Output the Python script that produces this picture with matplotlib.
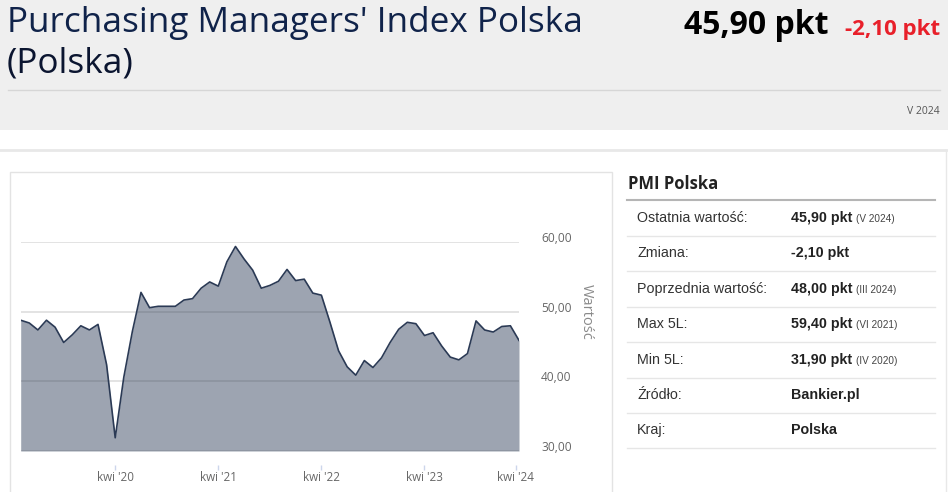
import matplotlib
matplotlib.use("Agg")
import matplotlib.pyplot as plt
import matplotlib.transforms as mtransforms
from matplotlib.lines import Line2D
from matplotlib.patches import Rectangle
import numpy as np

# ---------------- data ----------------
pmi_values = [48.8, 48.4, 47.4, 48.8, 47.8, 45.6, 46.7, 48.0, 47.4, 48.2,
              42.4, 31.9, 40.6, 47.2, 52.8, 50.6, 50.8, 50.8, 50.8, 51.7,
              51.9, 53.4, 54.3, 53.7, 57.2, 59.4, 57.6, 56.0, 53.4, 53.8,
              54.4, 56.1, 54.5, 54.7, 52.7, 52.4, 48.5, 44.4, 42.1, 40.9,
              43.0, 42.0, 43.4, 45.6, 47.5, 48.5, 48.3, 46.6, 47.0, 45.1,
              43.5, 43.1, 44.0, 48.7, 47.4, 47.1, 47.9, 48.0, 45.9]
x_tick_pos = [11, 23, 35, 47, 57.6]
x_tick_labels = ["kwi '20", "kwi '21", "kwi '22", "kwi '23", "kwi '24"]
y_ticks = [30, 40, 50, 60]
y_tick_labels = ["30,00", "40,00", "50,00", "60,00"]

title_lines = ["Purchasing Managers' Index Polska", "(Polska)"]
last_value = "45,90 pkt"
change_value = "-2,10 pkt"
period = "V 2024"

panel_title = "PMI Polska"
row_labels = ["Ostatnia wartość:", "Zmiana:", "Poprzednia wartość:", "Max 5L:",
              "Min 5L:", "Źródło:", "Kraj:"]
row_values = ["45,90 pkt", "-2,10 pkt", "48,00 pkt", "59,40 pkt",
              "31,90 pkt", "Bankier.pl", "Polska"]
row_dates = ["(V 2024)", "", "(III 2024)", "(VI 2021)", "(IV 2020)", "", ""]

# ---------------- figure ----------------
W, H = 948, 492
fig = plt.figure(figsize=(W / 100, H / 100), dpi=100)
fig.patch.set_facecolor("white")


def fx(px):
    return px / W


def fy(py):
    return 1 - py / H


# header background
fig.patches.append(Rectangle((0, fy(130)), 1, 130 / H, transform=fig.transFigure,
                             facecolor="#efefef", edgecolor="none", zorder=0))
fig.lines.append(Line2D([fx(8), fx(940)], [fy(90), fy(90)], transform=fig.transFigure,
                        color="#d6d6d6", lw=1))
# container border
fig.lines.append(Line2D([0, fx(946)], [fy(150), fy(150)], transform=fig.transFigure,
                        color="#e8e8e8", lw=2))
fig.lines.append(Line2D([fx(946), fx(946)], [fy(150), 0], transform=fig.transFigure,
                        color="#e8e8e8", lw=1))
# chart box
fig.patches.append(Rectangle((fx(10), fy(495)), fx(602), (495 - 172) / H,
                             transform=fig.transFigure, facecolor="none",
                             edgecolor="#e3e3e3", lw=1))

title_color = "#10234a"
fig.text(fx(7), fy(23), title_lines[0], fontsize=25.3, family="Open Sans",
         color=title_color, va="center", ha="left")
fig.text(fx(7), fy(64), title_lines[1], fontsize=25.3, family="Open Sans",
         color="#0b1530", va="center", ha="left")
fig.text(fx(828), fy(25), last_value, fontsize=23, family="Open Sans",
         fontweight="bold", color="black", va="center", ha="right")
fig.text(fx(940), fy(29), change_value, fontsize=16, family="Open Sans",
         fontweight="bold", color="#e8202a", va="center", ha="right")
fig.text(fx(940), fy(112), period, fontsize=7.5, family="Open Sans",
         color="#555555", va="center", ha="right")

# ---------------- chart ----------------
left, right, top, bottom = 20.7, 519, 242.3, 451
ax = fig.add_axes([fx(left), fy(bottom), fx(right - left), (bottom - top) / H])
x = np.arange(len(pmi_values))
line_color = "#2b3a55"
ax.fill_between(x, pmi_values, 30, color=line_color, alpha=0.46, lw=0, zorder=2)
ax.plot(x, pmi_values, color=line_color, lw=1.2, zorder=3)
ax.set_xlim(0, len(pmi_values) - 1)
ax.set_ylim(30, 60)
for yv in y_ticks:
    ax.axhline(yv, color="#e0e0e0", lw=1.3, zorder=1)
ax.set_facecolor("none")
for s in ax.spines.values():
    s.set_visible(False)
ax.set_yticks(y_ticks)
ax.set_yticklabels(y_tick_labels)
ax.yaxis.tick_right()
ax.tick_params(axis="y", length=0, pad=16, labelsize=8.6, labelcolor="#666666")
shift_up = mtransforms.ScaledTranslation(0, 5 / 100, fig.dpi_scale_trans)
for lbl in ax.get_yticklabels():
    lbl.set_family("Open Sans")
    lbl.set_transform(lbl.get_transform() + shift_up)
ax.spines["bottom"].set_position(("outward", 10))
ax.set_xticks(x_tick_pos)
ax.set_xticklabels(x_tick_labels)
ax.tick_params(axis="x", length=3.5, width=1, color="#ccd6eb", pad=1,
               labelsize=8.4, labelcolor="#666666", direction="out")
for lbl in ax.get_xticklabels():
    lbl.set_family("Open Sans")
fig.text(fx(586), fy(312), "Wartość", rotation=270, fontsize=10.5, family="Open Sans",
         color="#8a8a8a", va="center", ha="center")

# ---------------- right panel ----------------
fig.text(fx(628), fy(184), panel_title, fontsize=12, family="Open Sans",
         fontweight="bold", color="#222222", va="center", ha="left")
fig.lines.append(Line2D([fx(627), fx(935)], [fy(200), fy(200)], transform=fig.transFigure,
                        color="#b5b5b5", lw=1.5))
row_h = 35.4
first_center = 218
renderer = fig.canvas.get_renderer()
for i, (lab, val, dt) in enumerate(zip(row_labels, row_values, row_dates)):
    yc = first_center + i * row_h
    fig.text(fx(637), fy(yc), lab, fontsize=10.3, family="Liberation Sans",
             color="#333333", va="center", ha="left")
    tv = fig.text(fx(791), fy(yc), val, fontsize=10.3, family="Liberation Sans",
                  fontweight="bold", color="#222222", va="center", ha="left")
    if dt:
        bb = tv.get_window_extent(renderer=renderer)
        fig.text((bb.x1 + 4) / W, fy(yc + 1), dt, fontsize=7.2,
                 family="Liberation Sans", color="#444444", va="center", ha="left")
    fig.lines.append(Line2D([fx(627), fx(935)], [fy(yc + 18), fy(yc + 18)],
                            transform=fig.transFigure, color="#e6e6e6", lw=1))

fig.savefig("out.png", dpi=100, facecolor="white")
